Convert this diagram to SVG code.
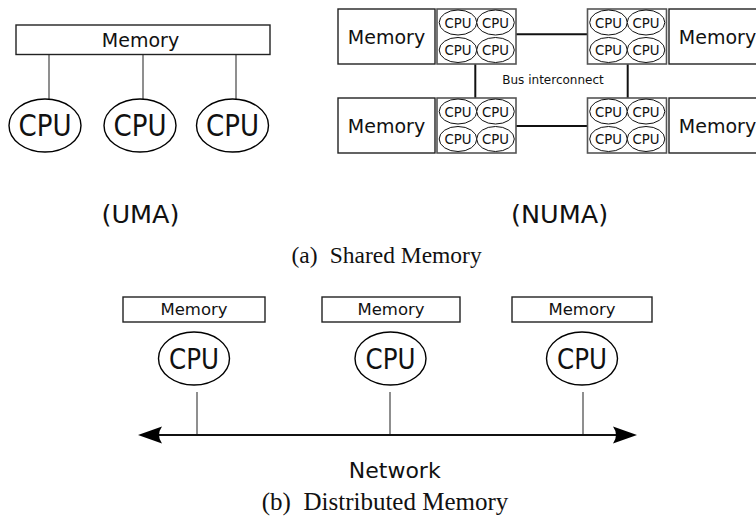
<svg xmlns="http://www.w3.org/2000/svg" width="756" height="518" viewBox="0 0 756 518">
<style>
.mem{fill:#fff;stroke:#222;stroke-width:1.4}
.cpubox{fill:#fff;stroke:#555;stroke-width:1.6}
.cpu{fill:#fff;stroke:#000;stroke-width:1.4}
.scpu{fill:#fff;stroke:#111;stroke-width:1}
.t{font-family:"DejaVu Sans",sans-serif;fill:#111;text-anchor:middle}
.cap{font-family:"Liberation Serif","Times New Roman",serif;fill:#111}
.thin{stroke:#333;stroke-width:1.1;fill:none}
.bus{stroke:#111;stroke-width:2;fill:none}
</style>
<defs>
<g id="quad">
<rect class="cpubox" x="0" y="0" width="79" height="55"/>
<ellipse class="scpu" cx="21" cy="13.5" rx="18.8" ry="12.5"/>
<ellipse class="scpu" cx="58.5" cy="13.5" rx="18.8" ry="12.5"/>
<ellipse class="scpu" cx="21" cy="41" rx="18.8" ry="12.5"/>
<ellipse class="scpu" cx="58.5" cy="41" rx="18.8" ry="12.5"/>
<text class="t" font-size="14" x="21" y="18.6" textLength="27" lengthAdjust="spacingAndGlyphs">CPU</text>
<text class="t" font-size="14" x="58.5" y="18.6" textLength="27" lengthAdjust="spacingAndGlyphs">CPU</text>
<text class="t" font-size="14" x="21" y="46.1" textLength="27" lengthAdjust="spacingAndGlyphs">CPU</text>
<text class="t" font-size="14" x="58.5" y="46.1" textLength="27" lengthAdjust="spacingAndGlyphs">CPU</text>
</g>
</defs>

<g id="connectors">
<line class="thin" x1="49" y1="54" x2="49" y2="99"/>
<line class="thin" x1="143" y1="54" x2="143" y2="99"/>
<line class="thin" x1="236" y1="54" x2="236" y2="99"/>
<line class="bus" x1="516" y1="34.3" x2="587" y2="34.3"/>
<line class="bus" x1="516" y1="126" x2="587" y2="126"/>
<line class="bus" x1="475.3" y1="64" x2="475.3" y2="98"/>
<line class="bus" x1="627.7" y1="64" x2="627.7" y2="98"/>
<line class="thin" x1="197" y1="392" x2="197" y2="435"/>
<line class="thin" x1="390" y1="392" x2="390" y2="435"/>
<line class="thin" x1="583" y1="392" x2="583" y2="435"/>
<line class="bus" x1="150" y1="435" x2="625" y2="435"/>
<path d="M138,435 L162,426.5 Q156,435 162,443.5 Z" fill="#000"/>
<path d="M637,435 L613,426.5 Q619,435 613,443.5 Z" fill="#000"/>
</g>

<g id="uma-memory">
<rect class="mem" x="16" y="25" width="254" height="29.5"/>
<text class="t" font-size="19" x="140.5" y="46.6">Memory</text>
</g>
<g id="uma-cpu1"><ellipse class="cpu" cx="45" cy="125.5" rx="36" ry="26.5"/><text class="t" font-size="30" x="45" y="136.3" textLength="53" lengthAdjust="spacingAndGlyphs">CPU</text></g>
<g id="uma-cpu2"><ellipse class="cpu" cx="140" cy="125.5" rx="36" ry="26.5"/><text class="t" font-size="30" x="140" y="136.3" textLength="53" lengthAdjust="spacingAndGlyphs">CPU</text></g>
<g id="uma-cpu3"><ellipse class="cpu" cx="232.5" cy="125.5" rx="36" ry="26.5"/><text class="t" font-size="30" x="232.5" y="136.3" textLength="53" lengthAdjust="spacingAndGlyphs">CPU</text></g>

<g id="numa-mem-tl"><rect class="mem" x="338" y="9" width="97" height="55"/><text class="t" font-size="19" x="386.5" y="43.6">Memory</text></g>
<g id="numa-mem-bl"><rect class="mem" x="338" y="98" width="97" height="55"/><text class="t" font-size="19" x="386.5" y="132.6">Memory</text></g>
<g id="numa-mem-tr"><rect class="mem" x="669" y="9" width="97" height="55"/><text class="t" font-size="19" x="717.5" y="43.6">Memory</text></g>
<g id="numa-mem-br"><rect class="mem" x="669" y="98" width="97" height="55"/><text class="t" font-size="19" x="717.5" y="132.6">Memory</text></g>
<g id="numa-cpu-tl"><use href="#quad" x="437" y="9"/></g>
<g id="numa-cpu-bl"><use href="#quad" x="437" y="98"/></g>
<g id="numa-cpu-tr"><use href="#quad" x="587.5" y="9"/></g>
<g id="numa-cpu-br"><use href="#quad" x="587.5" y="98"/></g>
<g id="bus-label"><text class="t" font-size="12" x="553" y="84">Bus interconnect</text></g>

<g id="labels-a">
<text class="t" font-size="25.5" x="101.5" y="223" style="text-anchor:start">(UMA)</text>
<text class="t" font-size="25.5" x="511" y="223" style="text-anchor:start">(NUMA)</text>
<text class="cap" font-size="23.5" x="291.5" y="263">(a)</text>
<text class="cap" font-size="23.5" x="481.7" y="263" text-anchor="end">Shared Memory</text>
</g>

<g id="dm-mem1"><rect class="mem" x="123" y="297" width="142" height="25"/><text class="t" font-size="16.5" x="194" y="315.3">Memory</text></g>
<g id="dm-mem2"><rect class="mem" x="322" y="297" width="138" height="25"/><text class="t" font-size="16.5" x="391" y="315.3">Memory</text></g>
<g id="dm-mem3"><rect class="mem" x="512" y="297" width="140" height="25"/><text class="t" font-size="16.5" x="582" y="315.3">Memory</text></g>
<g id="dm-cpu1"><ellipse class="cpu" cx="194" cy="358.5" rx="35.5" ry="26.5"/><text class="t" font-size="29" x="194" y="369" textLength="50" lengthAdjust="spacingAndGlyphs">CPU</text></g>
<g id="dm-cpu2"><ellipse class="cpu" cx="390.5" cy="358.5" rx="35.5" ry="26.5"/><text class="t" font-size="29" x="390.5" y="369" textLength="50" lengthAdjust="spacingAndGlyphs">CPU</text></g>
<g id="dm-cpu3"><ellipse class="cpu" cx="582" cy="358.5" rx="35.5" ry="26.5"/><text class="t" font-size="29" x="582" y="369" textLength="50" lengthAdjust="spacingAndGlyphs">CPU</text></g>

<g id="labels-b">
<text class="t" font-size="22" x="394.7" y="478">Network</text>
<text class="cap" font-size="25" x="261.7" y="510">(b)</text>
<text class="cap" font-size="25" x="508.3" y="510" text-anchor="end">Distributed Memory</text>
</g>
</svg>
